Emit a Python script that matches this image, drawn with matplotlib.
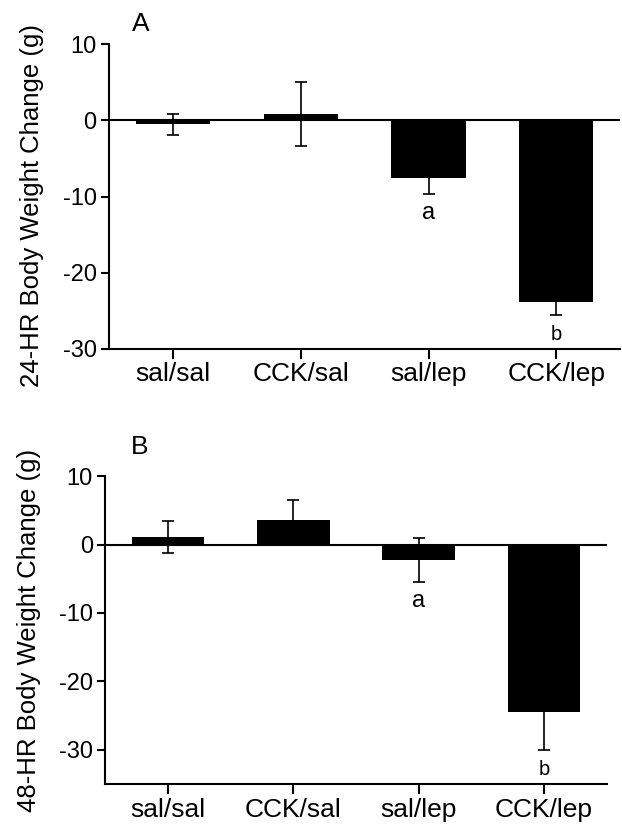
import matplotlib
matplotlib.use('Agg')
import matplotlib.pyplot as plt
import numpy as np

plt.rcParams['font.family'] = ['Liberation Sans', 'DejaVu Sans']
plt.rcParams['axes.unicode_minus'] = False

groups = ['sal/sal', 'CCK/sal', 'sal/lep', 'CCK/lep']
change_24h = [-0.5, 0.9, -7.5, -23.8]
sem_24h = [1.4, 4.2, 2.1, 1.8]
change_48h = [1.1, 3.6, -2.2, -24.5]
sem_48h = [2.3, 3.0, 3.2, 5.6]
letters = ['', '', 'a', 'b']


def panel(ax, vals, errs, ylabel, ylim, label_y, xpad):
    x = np.arange(len(groups))
    ax.bar(x, vals, width=0.58, color='black', zorder=2)
    ax.errorbar(x, vals, yerr=errs, fmt='none', ecolor='black',
                elinewidth=1.2, capsize=4.3, capthick=1.2, zorder=1)
    ax.axhline(0, color='black', lw=1.5, zorder=3)
    for xi, v, e, s in zip(x, vals, errs, letters):
        if s:
            ax.annotate(s, (xi, v - e), xytext=(0, -14), textcoords='offset points',
                        ha='center', va='center', fontsize=17 if s == 'a' else 14.5)
    ax.set_xlim(-0.5, 3.5)
    ax.set_ylim(*ylim)
    ax.set_yticks([10, 0, -10, -20, -30])
    ax.set_xticks(x)
    ax.set_xticklabels(groups)
    for sp in ['top', 'right']:
        ax.spines[sp].set_visible(False)
    for sp in ['left', 'bottom']:
        ax.spines[sp].set_linewidth(1.5)
    ax.tick_params(axis='x', length=7.5, width=1.5, pad=xpad, labelsize=19)
    ax.tick_params(axis='y', length=5.5, width=1.5, pad=3.5, labelsize=17)
    ax.set_ylabel(ylabel, fontsize=18.5)
    ax.yaxis.set_label_coords(-0.128, label_y)


fig = plt.figure(figsize=(6.22, 8.25), dpi=100)
ax1 = fig.add_axes([0.1755, 0.577, 0.8215, 0.3693])
ax2 = fig.add_axes([0.1696, 0.0499, 0.8055, 0.3728])

panel(ax1, change_24h, sem_24h, '24-HR Body Weight Change (g)', (-30, 10), 0.47, 2)
panel(ax2, change_48h, sem_48h, '48-HR Body Weight Change (g)', (-35, 10), 0.5, 2.5)

fig.text(0.227, 0.971, 'A', fontsize=19, ha='center', va='center')
fig.text(0.225, 0.458, 'B', fontsize=19, ha='center', va='center')

fig.savefig('out.png', dpi=100)
